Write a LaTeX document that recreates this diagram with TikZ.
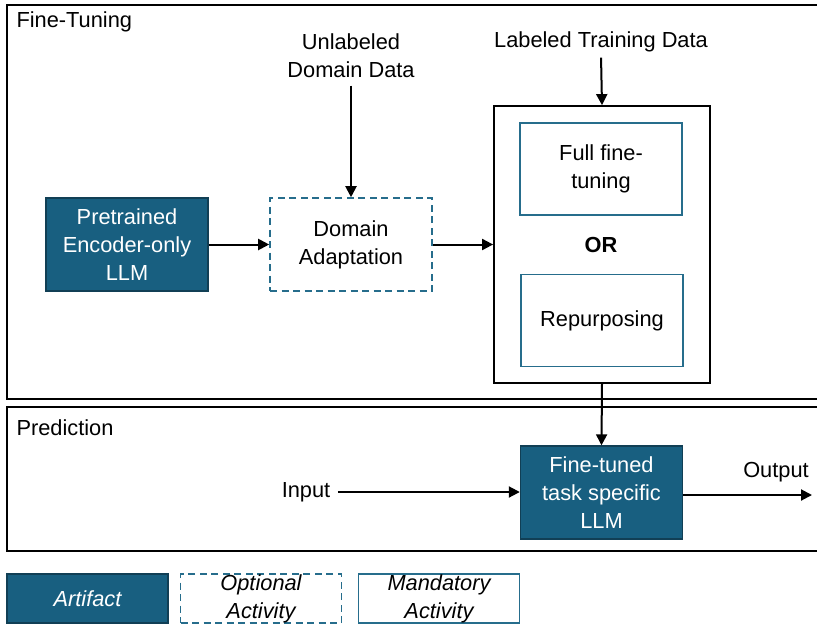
\documentclass[tikz,border=0pt]{standalone}
\usepackage{fontspec}
\setmainfont{Liberation Sans}
\usepackage{tikz}
\usetikzlibrary{arrows.meta}
\usetikzlibrary{positioning}
\definecolor{llm-teal}{HTML}{185F80}
\definecolor{llm-dark}{HTML}{113F55}
\definecolor{llm-line}{HTML}{266D8C}

\begin{document}
\begin{tikzpicture}[x=1pt, y=-1pt,
    font=\fontsize{21.8}{28}\selectfont,
    flow/.style={-{Triangle[length=11pt, width=11pt]}, line width=2pt}]

    \useasboundingbox (0,0) rectangle (817,625);
    \clip (0,0) rectangle (817,625);

    % frames
    \begin{scope}[line width=1.6pt]
        \draw (7,5) rectangle (830,399);
        \draw (7,407) rectangle (830,551);
    \end{scope}
    \node[anchor=west] (ftlabel) at (13,22) {Fine-Tuning};
    \node[anchor=west] (prlabel) at (13,428) {Prediction};

    % artifacts
    \begin{scope}[every node/.style={draw=llm-dark, fill=llm-teal, text=white, line width=1.4pt,
                  align=center, minimum width=162pt, minimum height=93pt, inner sep=0pt}]
        \node (pre) at (127,244.5) {Pretrained\\Encoder-only\\LLM};
        \node (ftl) at (601.5,492.5) {Fine-tuned\\task specific\\LLM};
    \end{scope}

    % optional activity
    \node[draw=llm-line, line width=1.6pt, dash pattern=on 7pt off 4.5pt, align=center,
          minimum width=162pt, minimum height=93pt, inner sep=0pt] (dom) at (351,244.5)
          {Domain\\Adaptation};

    % mandatory activities
    \node[draw, line width=1.8pt, minimum width=216pt, minimum height=277pt, inner sep=0pt]
          (big) at (602,244.5) {};
    \begin{scope}[every node/.style={draw=llm-line, line width=1.6pt, align=center,
                  minimum width=162pt, minimum height=92pt, inner sep=0pt}]
        \node (full) at (601,169) {Full fine-\\tuning};
        \node (rep) at (602,320.5) {Repurposing};
    \end{scope}
    \node[font=\fontsize{21.8}{28}\selectfont\bfseries] (or) at (601,245) {OR};

    % data
    \node[align=center] (unl) at (351,56) {Unlabeled\\Domain Data};
    \node (lab) at (601,42) {Labeled Training Data};
    \node (inp) at (306,492) {Input};
    \node (out) at (776,472) {Output};
    \coordinate (outend) at (812,495);

    % edges
    \draw[flow, shorten <=4pt] (unl.south) -- (dom.north);
    \draw[flow, shorten <=2pt] (lab.south) -- (big.north);
    \draw[flow] (pre.east) -- (dom.west);
    \draw[flow] (dom.east) -- (dom.east -| big.west);
    \draw[flow] (big.south) -- (ftl.north);
    \draw[flow, shorten <=4pt] (inp.east) -- (inp.east -| ftl.west);
    \draw[flow] (ftl.east |- outend) -- (outend);

    % legend
    \begin{scope}[every node/.style={align=center, minimum width=161pt, minimum height=49pt,
                  inner sep=0pt, font=\fontsize{21.8}{28}\selectfont\itshape}]
        \node[draw=llm-dark, fill=llm-teal, text=white, line width=1.4pt] (artifact) at (87.5,598.5) {Artifact};
        \node[draw=llm-line, line width=1.6pt, dash pattern=on 7pt off 4.5pt] (optional) at (261,598.5) {Optional\\Activity};
        \node[draw=llm-line, line width=1.6pt] (mandatory) at (439,598.5) {Mandatory\\Activity};
    \end{scope}

\end{tikzpicture}
\end{document}
